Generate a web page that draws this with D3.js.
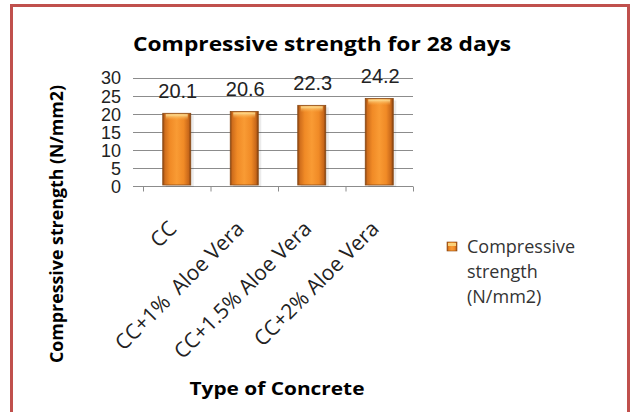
<!DOCTYPE html>
<html>
<head>
<meta charset="utf-8">
<script src="https://cdn.jsdelivr.net/npm/d3@7"></script>
<style>
  body { margin: 0; background: #fff; }
  text { font-family: "Open Sans", "Liberation Sans", sans-serif; }
</style>
</head>
<body>
<svg width="632" height="412"></svg>
<script>
var categories = ["CC", "CC+1%  Aloe Vera", "CC+1.5% Aloe Vera", "CC+2% Aloe Vera"];
var strength = [20.1, 20.6, 22.3, 24.2];
var yTicks = [0, 5, 10, 15, 20, 25, 30];

var svg = d3.select("svg");

// red frame
svg.append("rect")
    .attr("x", 11.5).attr("y", 5.5)
    .attr("width", 617).attr("height", 430)
    .attr("fill", "none")
    .attr("stroke", "#c0504d")
    .attr("stroke-width", 3);

var defs = svg.append("defs");
var grad = defs.append("linearGradient").attr("id", "barGrad")
    .attr("x1", 0).attr("x2", 1).attr("y1", 0).attr("y2", 0);
[[0, "#8a4410"], [0.08, "#d06e1c"], [0.25, "#f08a26"], [0.5, "#f99b34"], [0.75, "#f08a26"], [0.92, "#c9681a"], [1, "#7e3e0e"]]
    .forEach(function(s){
        grad.append("stop").attr("offset", s[0]).attr("stop-color", s[1]);
    });
var topGrad = defs.append("linearGradient").attr("id", "topGrad")
    .attr("x1", 0).attr("x2", 0).attr("y1", 0).attr("y2", 1);
topGrad.append("stop").attr("offset", 0).attr("stop-color", "#fde7a0");
topGrad.append("stop").attr("offset", 1).attr("stop-color", "#f9a640").attr("stop-opacity", 0);

var y = d3.scaleLinear().domain([0, 30]).range([186, 77.5]);
var x = d3.scaleBand().domain(categories).range([143, 413]).padding(0);
var barW = 28;

// gridlines
svg.append("g").selectAll("line")
    .data(yTicks.slice(1))
    .enter().append("line")
    .attr("x1", 133).attr("x2", 413)
    .attr("y1", function(d){ return Math.round(y(d)) + 0.5; })
    .attr("y2", function(d){ return Math.round(y(d)) + 0.5; })
    .attr("stroke", "#8c8c8c");

// y axis labels
var yAxis = d3.axisLeft(y).tickValues(yTicks).tickSize(0).tickPadding(0);
var gy = svg.append("g").attr("transform", "translate(121,0)").call(yAxis);
gy.select(".domain").remove();
gy.selectAll("text")
    .attr("font-size", 18)
    .attr("fill", "#222")
    .attr("dy", "0.36em")
    .style("font-family", "'Liberation Sans', sans-serif");

// x axis
var gx = svg.append("g").attr("transform", "translate(0,186.5)");
gx.append("line").attr("x1", 133).attr("x2", 413).attr("stroke", "#8c8c8c");
gx.selectAll(".tk")
    .data(d3.range(categories.length + 1))
    .enter().append("line")
    .attr("x1", function(i){ return 143.5 + i * x.bandwidth(); })
    .attr("x2", function(i){ return 143.5 + i * x.bandwidth(); })
    .attr("y1", 0).attr("y2", 5)
    .attr("stroke", "#8c8c8c");

// bars
var bars = svg.append("g").selectAll("g")
    .data(strength)
    .enter().append("g");
bars.append("rect")
    .attr("x", function(d, i){ return x(categories[i]) + x.bandwidth() / 2 - barW / 2 + 3; })
    .attr("y", function(d){ return y(d) + 2; })
    .attr("width", barW)
    .attr("height", function(d){ return y(0) - y(d) - 1; })
    .attr("fill", "#000").attr("opacity", 0.08);
bars.append("rect")
    .attr("x", function(d, i){ return x(categories[i]) + x.bandwidth() / 2 - barW / 2; })
    .attr("y", function(d){ return y(d); })
    .attr("width", barW)
    .attr("height", function(d){ return y(0) - y(d) - 1; })
    .attr("fill", "url(#barGrad)")
    .attr("stroke", "#8a4a14").attr("stroke-width", 0.8);
bars.append("rect")
    .attr("x", function(d, i){ return x(categories[i]) + x.bandwidth() / 2 - barW / 2 + 3; })
    .attr("y", function(d){ return y(d) + 1; })
    .attr("width", barW - 6)
    .attr("height", 6)
    .attr("fill", "url(#topGrad)");

// value labels
bars.append("text")
    .attr("x", function(d, i){ return x(categories[i]) + x.bandwidth() / 2 + 1; })
    .attr("y", function(d){ return y(d) - 15; })
    .attr("text-anchor", "middle")
    .attr("font-size", 20)
    .attr("fill", "#222")
    .style("font-family", "'Liberation Sans', sans-serif")
    .text(function(d){ return d.toFixed(1); });

// category labels
svg.append("g").selectAll("text")
    .data(categories)
    .enter().append("text")
    .attr("transform", function(d){
        return "translate(" + (x(d) + x.bandwidth() / 2 + 1) + ",230) rotate(-45)";
    })
    .attr("text-anchor", "end")
    .attr("font-size", 21)
    .attr("fill", "#222")
    .style("white-space", "pre")
    .text(function(d){ return d; });

// title
svg.append("text")
    .attr("x", 322).attr("y", 51)
    .attr("text-anchor", "middle")
    .attr("font-size", 20).attr("font-weight", "bold")
    .attr("textLength", 378).attr("lengthAdjust", "spacingAndGlyphs")
    .text("Compressive strength for 28 days");

// axis titles
svg.append("text")
    .attr("transform", "translate(63,224) rotate(-90)")
    .attr("text-anchor", "middle")
    .attr("font-size", 17).attr("font-weight", "bold")
    .attr("textLength", 278).attr("lengthAdjust", "spacingAndGlyphs")
    .text("Compressive strength (N/mm2)");

svg.append("text")
    .attr("x", 277).attr("y", 395)
    .attr("text-anchor", "middle")
    .attr("font-size", 18).attr("font-weight", "bold")
    .attr("textLength", 175).attr("lengthAdjust", "spacingAndGlyphs")
    .text("Type of Concrete");

// legend
var legend = svg.append("g").attr("transform", "translate(447,242)");
legend.append("rect")
    .attr("width", 10).attr("height", 9)
    .attr("fill", "url(#barGrad)")
    .attr("stroke", "#8a4a14").attr("stroke-width", 0.6);
legend.append("rect")
    .attr("x", 1).attr("y", 1).attr("width", 8).attr("height", 3)
    .attr("fill", "#fbd27a");
legend.selectAll(".lt")
    .data(["Compressive", "strength", "(N/mm2)"])
    .enter().append("text")
    .attr("x", 20)
    .attr("y", function(d, i){ return 11 + i * 25; })
    .attr("font-size", 18)
    .attr("fill", "#333")
    .text(function(d){ return d; });
</script>
</body>
</html>
